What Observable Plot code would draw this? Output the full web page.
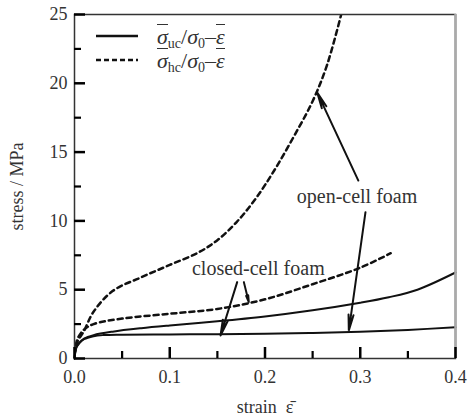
<!DOCTYPE html>
<html><head><meta charset="utf-8">
<script src="https://cdn.jsdelivr.net/npm/d3@7"></script>
<script src="https://cdn.jsdelivr.net/npm/@observablehq/plot@0.6"></script>
<style>
body{margin:0;background:#fff;overflow:hidden;}
#wrap{position:relative;width:468px;height:417px;}
#wrap svg{display:block;}
.leg{position:absolute;left:96px;height:24px;display:flex;align-items:center;font-family:'Liberation Serif',serif;font-size:22px;color:#333;white-space:nowrap;line-height:1;}
.leg svg{margin-right:19px;}
.leg sub{font-size:14px;font-style:normal;vertical-align:-4px;line-height:0;}
.leg .bar{display:inline-block;border-top:1px solid #333;padding-top:1px;line-height:1;}
</style></head><body><div id="wrap"></div>
<script>
// open-cell foam, uniaxial (lower solid)
const openUcStrain = [0, 0.002, 0.005, 0.01, 0.02, 0.03, 0.05, 0.1, 0.15, 0.2, 0.25, 0.3, 0.35, 0.4];
const openUcStress = [0, 0.8, 1.1, 1.4, 1.62, 1.7, 1.73, 1.75, 1.76, 1.8, 1.86, 1.95, 2.08, 2.27];
// closed-cell foam, uniaxial (upper solid)
const closedUcStrain = [0, 0.002, 0.005, 0.01, 0.02, 0.04, 0.07, 0.1, 0.15, 0.2, 0.25, 0.3, 0.33, 0.36, 0.4];
const closedUcStress = [0, 0.8, 1.15, 1.45, 1.7, 1.95, 2.2, 2.4, 2.7, 3.05, 3.5, 4.05, 4.45, 5.0, 6.25];
// open-cell foam, hydrostatic (upper dashed)
const openHcStrain = [0, 0.003, 0.01, 0.02, 0.04, 0.07, 0.1, 0.13, 0.15, 0.17, 0.19, 0.21, 0.23, 0.25, 0.265, 0.28];
const openHcStress = [0.3, 1.2, 2.0, 3.4, 4.9, 5.9, 6.8, 7.7, 8.6, 9.9, 11.6, 13.7, 16.1, 18.7, 21.3, 25];
// closed-cell foam, hydrostatic (lower dashed)
const closedHcStrain = [0, 0.003, 0.01, 0.02, 0.05, 0.1, 0.15, 0.2, 0.25, 0.3, 0.332];
const closedHcStress = [0.3, 1.4, 2.1, 2.5, 2.9, 3.25, 3.6, 4.3, 5.4, 6.6, 7.65];

const xTicks = [0, 0.1, 0.2, 0.3, 0.4];
const xMinorTicks = [0.05, 0.15, 0.25, 0.35];
const yTicks = [0, 5, 10, 15, 20, 25];
const yMinorTicks = [2.5, 7.5, 12.5, 17.5, 22.5];

const annoLabels = ["open-cell foam", "closed-cell foam"];
const annoX = [0.2966, 0.193];
const annoY = [11.77, 6.54];

const arrowX1 = [0.298, 0.3055, 0.1708, 0.1778];
const arrowY1 = [12.93, 10.63, 5.55, 5.55];
const arrowX2 = [0.255, 0.288, 0.1533, 0.183];
const arrowY2 = [19.3, 2.03, 1.67, 4.09];

const toRows = (xs, ys, s) => xs.map((x, i) => ({strain: x, stress: ys[i], series: s}));
const solid = [...toRows(openUcStrain, openUcStress, "openUc"), ...toRows(closedUcStrain, closedUcStress, "closedUc")];
const dashed = [...toRows(openHcStrain, openHcStress, "openHc"), ...toRows(closedHcStrain, closedHcStress, "closedHc")];
const annos = annoLabels.map((t, i) => ({t, x: annoX[i], y: annoY[i]}));
const arrows = arrowX1.map((x, i) => ({x1: x, y1: arrowY1[i], x2: arrowX2[i], y2: arrowY2[i]}));

const W = 468, H = 417, ML = 74, MR = 13, MT = 14, MB = 59;
const frameW = W - ML - MR, frameH = H - MT - MB;
const ticksX = (data, len, sw) => Plot.tickX(data, {x: d => d, insetTop: frameH - len, stroke: "#000", strokeWidth: sw});
const ticksY = (data, len, sw) => Plot.tickY(data, {y: d => d, insetRight: frameW - len, stroke: "#000", strokeWidth: sw});

const chart = Plot.plot({
  width: W, height: H,
  marginLeft: ML, marginRight: MR, marginTop: MT, marginBottom: MB,
  style: {fontFamily: "'Liberation Serif', serif", fontSize: "18px", color: "#333", background: "#fff"},
  x: {domain: [xTicks[0], xTicks[xTicks.length - 1]]},
  y: {domain: [yTicks[0], yTicks[yTicks.length - 1]]},
  marks: [
    Plot.line(solid, {x: "strain", y: "stress", z: "series", stroke: "#111", strokeWidth: 2, curve: "catmull-rom"}),
    Plot.line(dashed, {x: "strain", y: "stress", z: "series", stroke: "#111", strokeWidth: 2.5, strokeDasharray: "5,4", curve: "catmull-rom", clip: true}),
    Plot.arrow(arrows, {x1: "x1", y1: "y1", x2: "x2", y2: "y2", stroke: "#111", strokeWidth: 2, headLength: 12, headAngle: 18}),
    Plot.text(annos, {x: "x", y: "y", text: "t", fontSize: 20, fill: "#333"}),
    Plot.axisX(xTicks, {tickSize: 0, tickPadding: 12, tickFormat: ".1f", label: "strain  ε̄", labelArrow: false, labelAnchor: "center", labelOffset: 54}),
    Plot.axisY(yTicks, {tickSize: 0, tickPadding: 7, tickFormat: d => String(d), label: "stress / MPa", labelArrow: false, labelAnchor: "center", labelOffset: 64}),
    Plot.frame({stroke: "#333", strokeWidth: 1.5}),
    Plot.ruleX([xTicks[xTicks.length - 1]], {stroke: "#aaa", strokeWidth: 2.5}),
    ticksX(xTicks, 11, 2.5), ticksX(xMinorTicks, 7, 2.2),
    ticksY(yTicks, 11, 2.5), ticksY(yMinorTicks, 7, 2.2)
  ]
});
const wrap = document.getElementById("wrap");
wrap.appendChild(chart);

const legendItems = [
  {dash: null, html: "<i class='bar'>σ</i><sub>uc</sub>/<i>σ</i><sub>0</sub>–<i class='bar'>ε</i>"},
  {dash: "5,3", html: "<i class='bar'>σ</i><sub>hc</sub>/<i>σ</i><sub>0</sub>–<i class='bar'>ε</i>"}
];
legendItems.forEach((it, i) => {
  const d = document.createElement("div");
  d.className = "leg";
  d.style.top = (24 + i * 24) + "px";
  d.innerHTML = `<svg width="42" height="6"><line x1="0" x2="42" y1="3" y2="3" stroke="#111" stroke-width="2.5" ${it.dash ? `stroke-dasharray="${it.dash}"` : ""}/></svg><span>${it.html}</span>`;
  wrap.appendChild(d);
});
</script>
</body></html>
